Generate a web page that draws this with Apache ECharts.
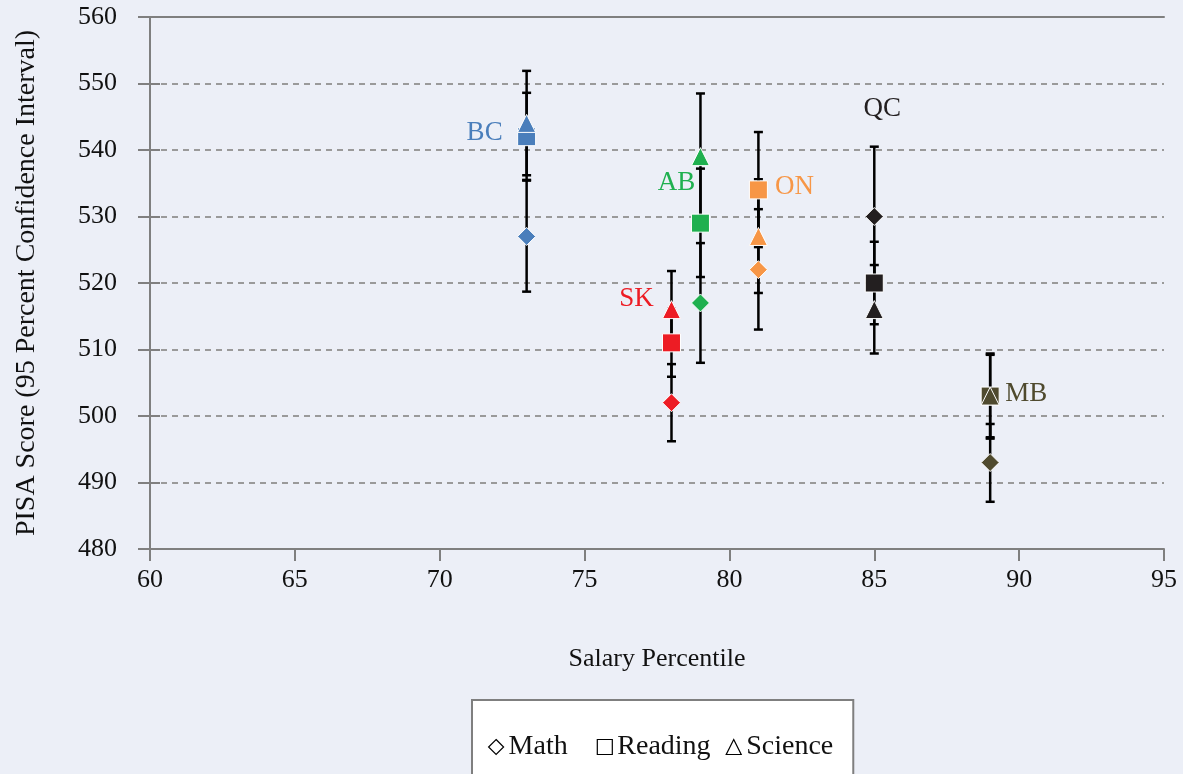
<!DOCTYPE html>
<html>
<head>
<meta charset="utf-8">
<script src="https://cdn.jsdelivr.net/npm/echarts@6/dist/echarts.min.js"></script>
<style>
html,body{margin:0;padding:0;background:#eceff7;}
#chart{width:1183px;height:774px;}
</style>
</head>
<body>
<div id="chart"></div>
<script>
// ---- data ----
var provinces   = ['BC', 'SK', 'AB', 'ON', 'QC', 'MB'];
var salaryPct   = [73, 78, 79, 81, 85, 89];
var math        = [527, 502, 517, 522, 530, 493];
var mathLow     = [518.7, 496.2, 508.0, 513.0, 519.5, 487.1];
var mathHigh    = [535.4, 507.8, 526.0, 531.1, 540.5, 498.8];
var reading     = [542, 511, 529, 534, 520, 503];
var readingLow  = [535.5, 505.9, 520.9, 525.4, 513.8, 496.6];
var readingHigh = [548.6, 516.1, 537.2, 542.7, 526.2, 509.4];
var science     = [544, 516, 539, 527, 516, 503];
var scienceLow  = [536.2, 510.2, 529.5, 518.5, 509.4, 496.8];
var scienceHigh = [551.9, 521.8, 548.5, 535.6, 522.7, 509.2];
var yTicks = [480, 490, 500, 510, 520, 530, 540, 550, 560];
var xTicks = [60, 65, 70, 75, 80, 85, 90, 95];

// ---- styles ----
var colors = {BC:'#4a7ebb', SK:'#ed1c24', AB:'#1fb04f', ON:'#f79646', QC:'#231f20', MB:'#4f4a2e'};
var labelOffsets = {BC:[-42,-4], SK:[-35,-44], AB:[-24,-40], ON:[36,-3], QC:[8,-174], MB:[36,-2]};
var FONT = '"Liberation Serif", "DejaVu Serif", serif';
var AXIS_GRAY = '#7f7f7f';

function ciData(low, high){
  return provinces.map(function(p,i){ return [salaryPct[i], low[i], high[i]]; });
}
function renderCI(params, api){
  var x = api.value(0);
  var lo = api.coord([x, api.value(1)]);
  var hi = api.coord([x, api.value(2)]);
  var cw = 4.5;
  var st = {stroke:'#000', lineWidth:2.5};
  return {
    type:'group',
    children:[
      {type:'line', shape:{x1:lo[0], y1:lo[1], x2:hi[0], y2:hi[1]}, style:st},
      {type:'line', shape:{x1:lo[0]-cw, y1:lo[1], x2:lo[0]+cw, y2:lo[1]}, style:st},
      {type:'line', shape:{x1:hi[0]-cw, y1:hi[1], x2:hi[0]+cw, y2:hi[1]}, style:st}
    ]
  };
}
function pts(vals, withLabel){
  return provinces.map(function(p,i){
    var d = {value:[salaryPct[i], vals[i]], name:p, itemStyle:{color:colors[p], opacity:1}};
    if(withLabel){
      d.label = {show:true, position:'inside', offset:labelOffsets[p], formatter:p,
                 color:colors[p], fontSize:27, fontFamily:FONT, opacity:1};
    }
    return d;
  });
}
var markerStyle = {color:'#000', borderColor:'#fff', borderWidth:1, opacity:1};

var chart = echarts.init(document.getElementById('chart'), null, {renderer:'canvas'});
chart.setOption({
  backgroundColor:'#eceff7',
  animation:false,
  grid:{left:150, right:19, top:17, bottom:225, containLabel:false},
  xAxis:[{
    type:'value', min:xTicks[0], max:xTicks[xTicks.length-1], interval:5,
    name:'Salary Percentile', nameLocation:'middle', nameGap:97,
    nameTextStyle:{fontFamily:FONT, fontSize:26, color:'#111'},
    axisLine:{show:true, lineStyle:{color:AXIS_GRAY, width:2}},
    axisTick:{show:true, length:12, lineStyle:{color:AXIS_GRAY, width:2}},
    axisLabel:{fontFamily:FONT, fontSize:26, color:'#111', margin:18},
    splitLine:{show:false}
  },{
    type:'value', position:'top', min:xTicks[0], max:xTicks[xTicks.length-1], interval:5,
    axisLine:{show:true, lineStyle:{color:AXIS_GRAY, width:2}},
    axisTick:{show:false}, axisLabel:{show:false}, splitLine:{show:false}
  }],
  yAxis:[{
    type:'value', min:yTicks[0], max:yTicks[yTicks.length-1], interval:10,
    name:'PISA Score (95 Percent Confidence Interval)', nameLocation:'middle', nameGap:109,
    nameTextStyle:{fontFamily:FONT, fontSize:28, color:'#111'},
    axisLine:{show:true, lineStyle:{color:AXIS_GRAY, width:2}},
    axisTick:{show:true, length:12, lineStyle:{color:AXIS_GRAY, width:2}},
    axisLabel:{fontFamily:FONT, fontSize:26, color:'#111', margin:33},
    splitLine:{show:true, lineStyle:{color:'#9a9a9a', width:2, type:[6,5]}}
  },{
    type:'value', position:'left', min:yTicks[0], max:yTicks[yTicks.length-1], interval:10,
    axisLine:{show:false},
    axisTick:{show:true, inside:true, length:10, lineStyle:{color:AXIS_GRAY, width:2}},
    axisLabel:{show:false}, splitLine:{show:false}
  }],
  legend:{
    data:[
      {name:'Math', icon:'diamond'},
      {name:'Reading', icon:'rect'},
      {name:'Science', icon:'triangle'}
    ],
    formatter:function(name){ return name === 'Math' ? 'Math  ' : name; },
    left:472, top:700, orient:'horizontal',
    padding:[33, 20, 40, 16],
    itemGap:15, itemWidth:15, itemHeight:15,
    backgroundColor:'#ffffff', borderColor:AXIS_GRAY, borderWidth:2,
    itemStyle:{color:'#ffffff', borderColor:'#000', borderWidth:1.2},
    textStyle:{fontFamily:FONT, fontSize:28, color:'#111'},
    selectedMode:false
  },
  series:[
    {type:'custom', name:'Math CI', renderItem:renderCI, data:ciData(mathLow, mathHigh), z:1, silent:true},
    {type:'custom', name:'Reading CI', renderItem:renderCI, data:ciData(readingLow, readingHigh), z:1, silent:true},
    {type:'custom', name:'Science CI', renderItem:renderCI, data:ciData(scienceLow, scienceHigh), z:1, silent:true},
    {type:'scatter', name:'Math', symbol:'diamond', symbolSize:18, data:pts(math,false), z:3, itemStyle:markerStyle},
    {type:'scatter', name:'Reading', symbol:'rect', symbolSize:18, data:pts(reading,true), z:4, itemStyle:markerStyle},
    {type:'scatter', name:'Science', symbol:'triangle', symbolSize:18, data:pts(science,false), z:5, itemStyle:markerStyle}
  ]
});
</script>
</body>
</html>
